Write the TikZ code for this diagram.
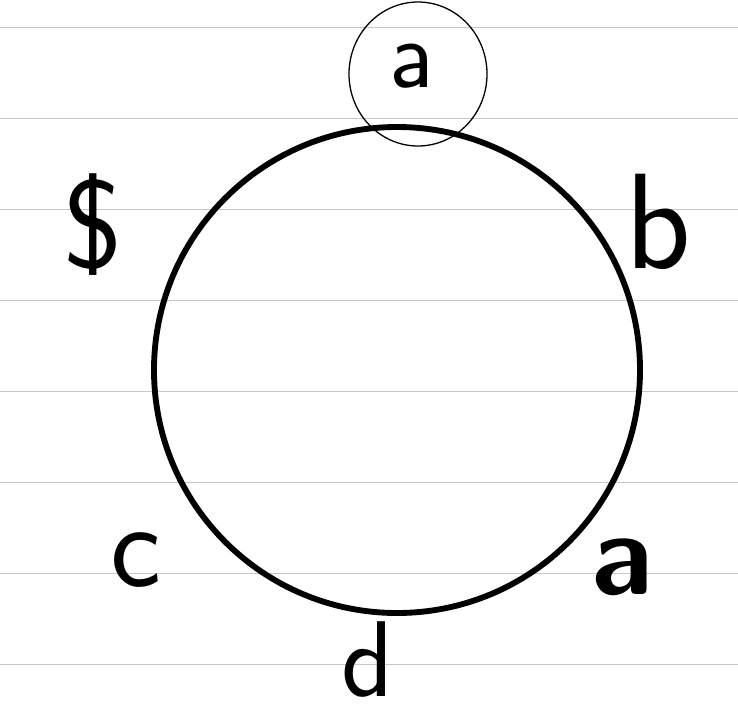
\documentclass[tikz,border=0pt]{standalone}
\usepackage{tikz}
\usetikzlibrary{
  calc
 , positioning
}

\begin{document}
\begin{tikzpicture}[x=0.03cm,y=-0.03cm,
    ruled/.style={draw=black!22, line width=0.8pt},
    letter/.style={inner sep=0pt, font=\fontsize{80}{80}\selectfont\sffamily}]
      \useasboundingbox (0,0) rectangle (738,722);
      % paper lines
      \foreach \ly in {27,118,209,300,391,482,573,664}
        \draw [ruled] (0,\ly) -- (738,\ly);

      \coordinate (O) at (397,370);
      \draw [line width=5pt] (O) circle [radius=243];

      \node [letter, scale=1.05] (Atop) at (412,66) {a};
      \draw [line width=1.1pt] ($(Atop)+(6,8)$) ellipse [x radius=69, y radius=72];
      \node [letter, scale=1.35] (Dollar) at (93,225) {\$};
      \node [letter, scale=1.45] (B) at (658,222) {b};
      \node [letter, scale=1.3] (C) at (136,560) {c};
      \node [letter, font=\fontsize{80}{80}\selectfont\sffamily\bfseries, scale=1.25] (Abot) at (622,567) {a};
      \node [letter, scale=1.15] (D) at (368,660) {d};
    \end{tikzpicture}
\end{document}
